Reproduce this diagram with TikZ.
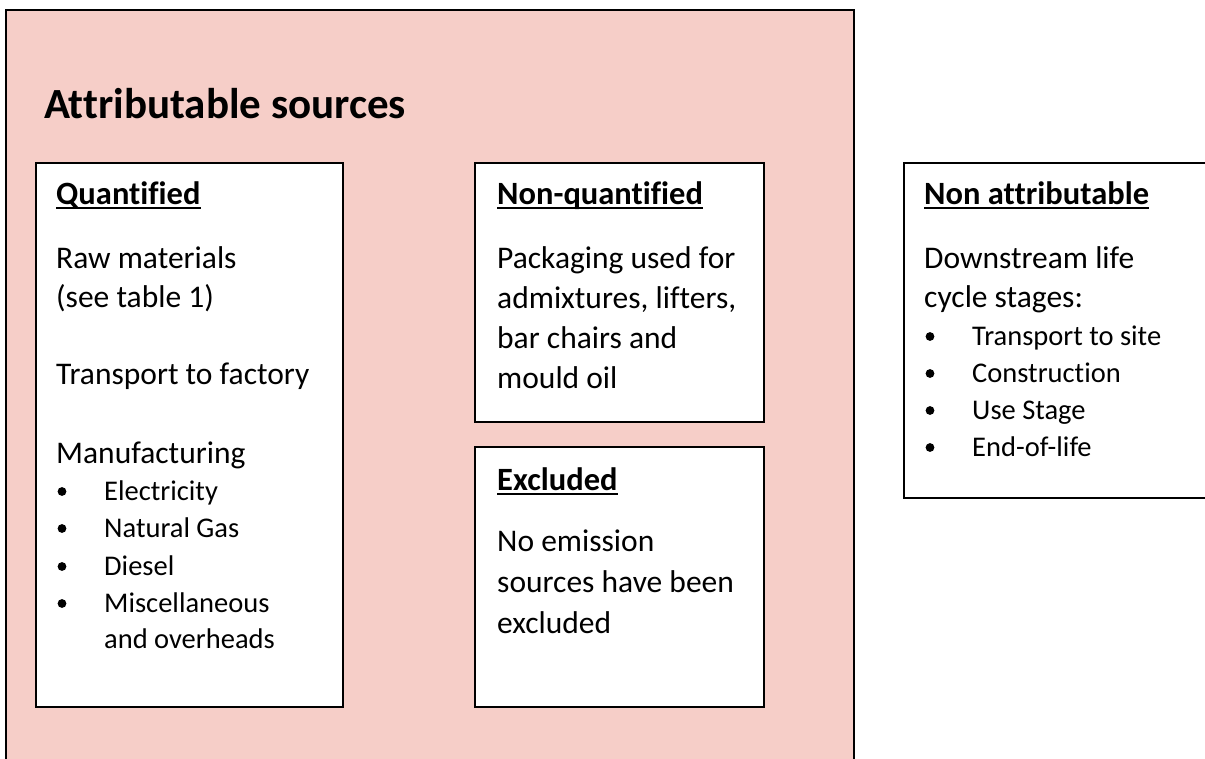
\documentclass[tikz,border=0pt]{standalone}
\usepackage{fontspec}
\setmainfont{Carlito}[Ligatures=CommonOff]
\definecolor{attrpink}{RGB}{246,206,200}
\tikzset{
  frame/.style={draw, line width=1.5pt, fill=attrpink, anchor=north west, inner sep=0pt,
    minimum width=848pt, minimum height=800pt},
  panel/.style={draw, line width=1.5pt, fill=white, anchor=north west, inner sep=0pt},
  hdr/.style={anchor=base west, inner sep=0pt, font=\fontsize{32.5}{38}\selectfont\bfseries},
  txt/.style={anchor=base west, inner sep=0pt, font=\fontsize{31.5}{38}\selectfont},
  itm/.style={anchor=base west, inner sep=0pt, font=\fontsize{28.5}{37}\selectfont},
  uline/.style={line width=2pt}
}

\begin{document}
\begin{tikzpicture}[x=1pt,y=-1pt]
\useasboundingbox (0,0) rectangle (1205,758);

\node[frame] (attr) at (5,9) {};
\node[anchor=base west, inner sep=0pt, font=\fontsize{43}{50}\selectfont\bfseries]
  (attrtitle) at (44,118) {Attributable sources};

\node[panel, minimum width=307pt, minimum height=544pt] (quant) at (35,162) {};
\node[panel, minimum width=289pt, minimum height=259pt] (nonquant) at (474,162) {};
\node[panel, minimum width=289pt, minimum height=260pt] (excl) at (474,446) {};
\node[panel, minimum width=320pt, minimum height=335pt] (nonattr) at (903,162) {};

% headings
\node[hdr] (quanthd) at (56,204) {Quantified};
\node[hdr] (nonquanthd) at (497,204) {Non-quantified};
\node[hdr] (exclhd) at (497,490) {Excluded};
\node[hdr] (nonattrhd) at (924,204) {Non attributable};
\foreach \n in {quanthd,nonquanthd,exclhd,nonattrhd}
  \draw[uline] ([yshift=-3.5pt]\n.base west) -- ([yshift=-3.5pt]\n.base east);

% quantified
\node[txt] (rawmat) at (56,268) {Raw materials};
\node[txt] (seetab) at (56,307) {(see table 1)};
\node[txt] (transp) at (56,384) {Transport to factory};
\node[txt] (manuf) at (56,463) {Manufacturing};
\node[itm] (elec) at (104,500) {Electricity};
\node[itm] (gas) at (104,537) {Natural Gas};
\node[itm] (diesel) at (104,575) {Diesel};
\node[itm] (misc) at (104,612) {Miscellaneous};
\node[itm] (overh) at (104,648) {and overheads};
\foreach \y in {500,537,575,612}
  \fill (62,{\y-8.5}) circle (4.4pt);

% non-quantified
\node[txt] (pack) at (497,268) {Packaging used for};
\node[txt] (admix) at (497,308) {admixtures, lifters,};
\node[txt] (barch) at (497,348) {bar chairs and};
\node[txt] (mould) at (497,388) {mould oil};

% excluded
\node[txt] (noemis) at (497,551) {No emission};
\node[txt] (srcs) at (497,592) {sources have been};
\node[txt] (exclud) at (497,633) {excluded};

% non attributable
\node[txt] (downstr) at (924,268) {Downstream life};
\node[txt] (cycle) at (924,307) {cycle stages:};
\node[itm] (tosite) at (972,345) {Transport to site};
\node[itm] (constr) at (972,382) {Construction};
\node[itm] (usest) at (972,419) {Use Stage};
\node[itm] (eol) at (972,456) {End-of-life};
\foreach \y in {345,382,419,456}
  \fill (930,{\y-8.5}) circle (4.4pt);

\end{tikzpicture}
\end{document}
